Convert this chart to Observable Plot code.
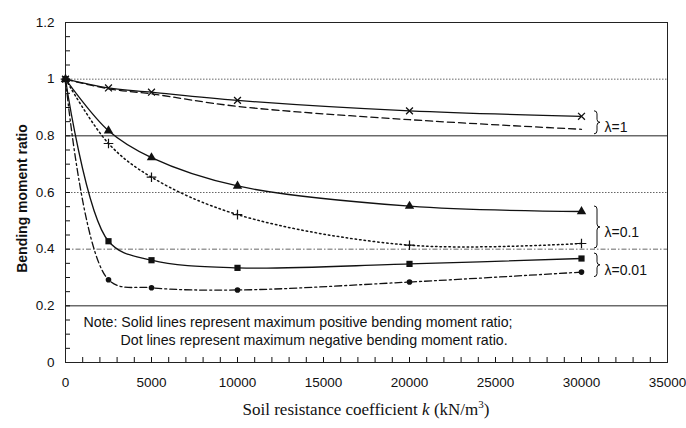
<!DOCTYPE html>
<html><head><meta charset="utf-8">
<script src="https://cdn.jsdelivr.net/npm/d3@7"></script>
<script src="https://cdn.jsdelivr.net/npm/@observablehq/plot@0.6"></script>
<style>
body{margin:0;background:#fff;}
#xt{font-family:"Liberation Serif","Times New Roman",serif;font-size:17px;margin-left:65px;width:602px;text-align:center;height:36px;line-height:36px;color:#111;}
#xt sup{font-size:11px;line-height:0;}
</style></head><body><div id="chart"></div>
<script>
const kValues = [0, 2500, 5000, 10000, 20000, 30000];
const lam1Pos   = [1, 0.969, 0.954, 0.925, 0.888, 0.869];
const lam1Neg   = [1, 0.966, 0.948, 0.904, 0.857, 0.823];
const lam01Pos  = [1, 0.818, 0.723, 0.623, 0.552, 0.533];
const lam01Neg  = [1, 0.773, 0.654, 0.522, 0.414, 0.420];
const lam001Pos = [1, 0.428, 0.361, 0.334, 0.348, 0.367];
const lam001Neg = [1, 0.292, 0.264, 0.256, 0.284, 0.319];
const lambdaLabels = ["λ=1", "λ=0.1", "λ=0.01"];
const xTicks = [0, 5000, 10000, 15000, 20000, 25000, 30000, 35000];
const yTicks = [0, 0.2, 0.4, 0.6, 0.8, 1.0, 1.2];
const xMinor = d3.range(0, 35001, 1000);
const yMinor = d3.range(0, 1.2001, 0.05);
const solidGrid = [0.2, 0.8];
const dottedGrid = [0.6, 1.0];
const dashDotGrid = [0.4];
const yTitle = ["Bending moment ratio"];
const note1 = ["Note: Solid lines represent maximum positive bending moment ratio;"];
const note2 = ["Dot lines represent maximum negative bending moment ratio."];

const rows = (vals) => kValues.map((k, i) => ({k, ratio: vals[i]}));
const groups = [
  {label: lambdaLabels[0], a: lam1Pos, b: lam1Neg},
  {label: lambdaLabels[1], a: lam01Pos, b: lam01Neg},
  {label: lambdaLabels[2], a: lam001Pos, b: lam001Neg}
].map(g => {
  const hi = Math.max(g.a.at(-1), g.b.at(-1)), lo = Math.min(g.a.at(-1), g.b.at(-1));
  return {...g, hi, lo, mid: (hi + lo) / 2, k: kValues.at(-1)};
});

const curve = "catmull-rom";
const font = "Liberation Sans, Arial, sans-serif";
const W = 686, H = 392, ML = 65, MR = 19, MT = 22, MB = 30;
const frameW = W - ML - MR, frameH = H - MT - MB;

function braces(index, scales) {
  const g = d3.create("svg:g").attr("fill", "none").attr("stroke", "#111").attr("stroke-width", 1);
  for (const grp of groups) {
    const x0 = scales.x(grp.k) + 13;
    const y0 = scales.y(grp.hi) - 5, y1 = scales.y(grp.lo) + 5, cy = (y0 + y1) / 2;
    const w = 3;
    g.append("path").attr("d",
      `M${x0},${y0} Q${x0+w},${y0} ${x0+w},${y0+3} L${x0+w},${cy-3} Q${x0+w},${cy} ${x0+2*w},${cy} ` +
      `Q${x0+w},${cy} ${x0+w},${cy+3} L${x0+w},${y1-3} Q${x0+w},${y1} ${x0},${y1}`);
  }
  return g.node();
}

const chart = Plot.plot({
  width: W, height: H,
  marginLeft: ML, marginRight: MR, marginTop: MT, marginBottom: MB,
  style: {fontFamily: font, fontSize: "13.5px", color: "#111", background: "#fff"},
  x: {domain: [0, 35000]},
  y: {domain: [0, 1.2]},
  marks: [
    Plot.ruleY(solidGrid, {stroke: "#222", strokeWidth: 1}),
    Plot.ruleY(dottedGrid, {stroke: "#666", strokeDasharray: "1.5,1.5"}),
    Plot.ruleY(dashDotGrid, {stroke: "#666", strokeDasharray: "5,2,1.5,2"}),
    Plot.ruleX(xMinor, {stroke: "#111", strokeWidth: 1, insetTop: frameH - 5}),
    Plot.ruleY(yMinor, {stroke: "#111", strokeWidth: 1, insetRight: frameW - 5}),
    Plot.frame({stroke: "#222"}),
    Plot.axisX({ticks: xTicks, tickSize: 0, tickPadding: 15, tickFormat: d3.format("d"), label: null, fontSize: 13.5}),
    Plot.axisY({ticks: yTicks, tickSize: 0, tickPadding: 11, tickFormat: d => String(+d.toFixed(1)), label: null, fontSize: 13.5}),
    Plot.text(yTitle, {frameAnchor: "left", textAnchor: "middle", rotate: -90, dx: -43, dy: 6, fontWeight: "bold", fontSize: 14}),
    Plot.text(note1, {frameAnchor: "bottom-left", textAnchor: "start", dx: 18, dy: -36, fontSize: 14.2}),
    Plot.text(note2, {frameAnchor: "bottom-left", textAnchor: "start", dx: 55, dy: -18, fontSize: 14.2}),
    // lambda = 1
    Plot.line(rows(lam1Pos), {x: "k", y: "ratio", curve, stroke: "#111", strokeWidth: 1.3}),
    Plot.line(rows(lam1Neg), {x: "k", y: "ratio", curve, stroke: "#111", strokeWidth: 1.3, strokeDasharray: "7,4"}),
    Plot.dot(rows(lam1Pos), {x: "k", y: "ratio", symbol: "times", r: 3.2, stroke: "#111", strokeWidth: 1.3}),
    // lambda = 0.1
    Plot.line(rows(lam01Pos), {x: "k", y: "ratio", curve, stroke: "#111", strokeWidth: 1.3}),
    Plot.line(rows(lam01Neg), {x: "k", y: "ratio", curve, stroke: "#111", strokeWidth: 1.5, strokeDasharray: "1.5,3"}),
    Plot.dot(rows(lam01Pos), {x: "k", y: "ratio", symbol: "triangle", r: 3.5, fill: "#111"}),
    Plot.dot(rows(lam01Neg), {x: "k", y: "ratio", symbol: "plus", r: 3.2, stroke: "#111", strokeWidth: 1.2}),
    // lambda = 0.01
    Plot.line(rows(lam001Pos), {x: "k", y: "ratio", curve, stroke: "#111", strokeWidth: 1.3}),
    Plot.line(rows(lam001Neg), {x: "k", y: "ratio", curve, stroke: "#111", strokeWidth: 1.3, strokeDasharray: "7,3,2,3"}),
    Plot.dot(rows(lam001Pos), {x: "k", y: "ratio", symbol: "square", r: 3.5, fill: "#111"}),
    Plot.dot(rows(lam001Neg), {x: "k", y: "ratio", symbol: "circle", r: 2.8, fill: "#111"}),
    // braces + labels
    braces,
    Plot.text(groups, {x: "k", y: "mid", text: "label", dx: 23, dy: 5, textAnchor: "start", fontSize: 14})
  ]
});
document.getElementById("chart").append(chart);
const xt = document.createElement("div");
xt.id = "xt";
xt.innerHTML = "Soil resistance coefficient <i>k</i> (kN/m<sup>3</sup>)";
document.body.append(xt);
</script></body></html>
